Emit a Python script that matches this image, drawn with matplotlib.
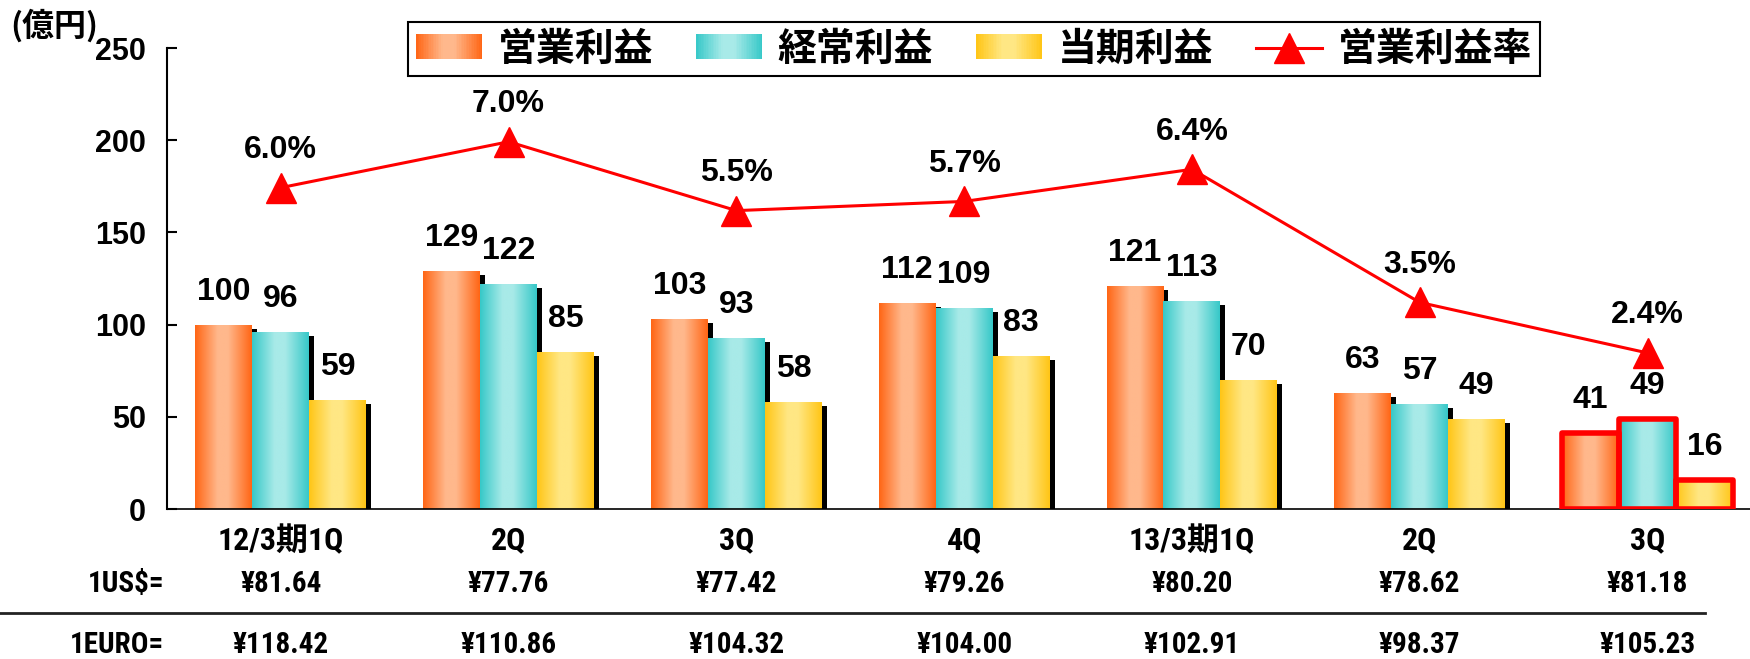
import numpy as np
import matplotlib
matplotlib.use('Agg')
import matplotlib.pyplot as plt
import matplotlib.patheffects as pe
import matplotlib.transforms as mtransforms
from matplotlib import font_manager as fm
from matplotlib.colors import LinearSegmentedColormap
from matplotlib.patches import Rectangle
from matplotlib.lines import Line2D
from matplotlib.legend_handler import HandlerBase

plt.rcParams['font.family'] = ['Liberation Sans', 'Noto Sans CJK JP']
plt.rcParams['font.weight'] = 'bold'

# data
cats = ['12/3期1Q', '2Q', '3Q', '4Q', '13/3期1Q', '2Q', '3Q']
op_profit = [100, 129, 103, 112, 121, 63, 41]
ord_profit = [96, 122, 93, 109, 113, 57, 49]
net_profit = [59, 85, 58, 83, 70, 49, 16]
op_margin = [6.0, 7.0, 5.5, 5.7, 6.4, 3.5, 2.4]
usd_rate = ['¥81.64', '¥77.76', '¥77.42', '¥79.26', '¥80.20', '¥78.62', '¥81.18']
eur_rate = ['¥118.42', '¥110.86', '¥104.32', '¥104.00', '¥102.91', '¥98.37', '¥105.23']
names = ['営業利益', '経常利益', '当期利益', '営業利益率']

def grad_cmap(dark, light):
    return LinearSegmentedColormap.from_list('g', [(0, dark), (0.4, light), (0.58, light), (1, dark)])

cm_orange = grad_cmap('#FF6514', '#FFB88C')
cm_teal = grad_cmap('#36C8C8', '#A8EAE8')
cm_yellow = grad_cmap('#FFC515', '#FFE784')

# condensed face for the table text, if one is around
avail = {f.name for f in fm.fontManager.ttflist}
narrow_name = next((n for n in ['Roboto Condensed', 'Liberation Sans Narrow', 'Open Sans Condensed']
                    if n in avail), 'Noto Sans CJK JP')
narrow = [narrow_name, 'Noto Sans CJK JP']
tsize = 21 if narrow_name != 'Noto Sans CJK JP' else 19

fig = plt.figure(figsize=(17.5, 6.59), dpi=100)
ax = fig.add_axes([0.0954, 0.2276, 0.9046, 0.6994])

x = np.arange(len(cats))
w = 0.25
grad = np.linspace(0, 1, 256)[None, :]
last = len(cats) - 1

for k, (vals, cm) in enumerate([(op_profit, cm_orange), (ord_profit, cm_teal), (net_profit, cm_yellow)]):
    bars = ax.bar(x + (k - 1) * w, vals, w, color=cm(0.5), edgecolor='none', zorder=2)
    for i, r in enumerate(bars):
        if i != last:
            r.set_path_effects([pe.SimplePatchShadow(offset=(3.6, -3), shadow_rgbFace='black', alpha=1),
                                pe.Normal()])
        im = ax.imshow(grad, cmap=cm, aspect='auto', interpolation='bilinear', zorder=2.1,
                       extent=(r.get_x(), r.get_x() + r.get_width(), 0, r.get_height()))
        im.set_clip_path(r)
        ax.annotate(str(vals[i]), (r.get_x() + r.get_width() / 2, r.get_height()),
                    xytext=(0, 18), textcoords='offset points', ha='center', va='baseline',
                    fontsize=23, fontweight='bold', zorder=6)
    # highlighted latest quarter
    ax.bar(x[last] + (k - 1) * w, vals[last], w, fill=False, edgecolor='#FF0000',
           lw=4, joinstyle='round', zorder=3)

ax.set_xlim(-0.5, 6.45)
ax.set_ylim(0, 250)
ax.set_yticks(range(0, 251, 50))
ax.tick_params(axis='y', direction='in', length=7, width=1.5, labelsize=22, pad=15)
ax.set_xticks(x)
ax.set_xticklabels(cats, fontsize=tsize + 2, family=narrow)
ax.tick_params(axis='x', length=0, pad=12)
for s in ['top', 'right']:
    ax.spines[s].set_visible(False)
ax.spines['left'].set_linewidth(1.5)
ax.spines['bottom'].set_linewidth(1.2)

# margin line on hidden secondary axis
ax2 = ax.twinx()
ax2.set_ylim(-1.0, 9.04)
ax2.plot(x, op_margin, color='#FF0000', lw=2.2, marker='^', ms=21, zorder=5)
for xi, m in zip(x, op_margin):
    ax2.annotate(f'{m:.1f}%', (xi, m), xytext=(0, 27), textcoords='offset points',
                 ha='center', va='center', fontsize=23, fontweight='bold')
ax2.set_yticks([])
for s in ax2.spines.values():
    s.set_visible(False)
ax2.set_xlim(-0.5, 6.45)

# exchange-rate rows
tr = mtransforms.blended_transform_factory(ax.transData, fig.transFigure)
for i in range(len(cats)):
    ax.text(x[i], 0.1138, usd_rate[i], transform=tr, ha='center', va='center', fontsize=tsize, family=narrow)
    ax.text(x[i], 0.0212, eur_rate[i], transform=tr, ha='center', va='center', fontsize=tsize, family=narrow)
fig.text(0.0937, 0.1138, '1US$=', ha='right', va='center', fontsize=tsize, family=narrow)
fig.text(0.0937, 0.0212, '1EURO=', ha='right', va='center', fontsize=tsize, family=narrow)
fig.add_artist(Line2D([0, 0.974], [0.0698, 0.0698], transform=fig.transFigure, color='#222222', lw=2))

fig.text(0.006, 0.960, '(億円)', ha='left', va='center', fontsize=23, family=['Noto Sans CJK JP'])


class GradHandler(HandlerBase):
    def __init__(self, cm):
        super().__init__()
        self.cm = cm

    def create_artists(self, legend, orig_handle, xdescent, ydescent, width, height, fontsize, trans):
        n = 40
        arts = []
        for i in range(n):
            arts.append(Rectangle((-xdescent + width * i / n, -ydescent), width / n * 1.1, height,
                                  facecolor=self.cm((i + 0.5) / n), edgecolor='none', lw=0, transform=trans))
        return arts


h1, h2, h3 = Rectangle((0, 0), 1, 1), Rectangle((0, 0), 1, 1), Rectangle((0, 0), 1, 1)
h4 = Line2D([], [], color='#FF0000', lw=2.2, marker='^', ms=21)
leg = fig.legend([h1, h2, h3, h4], names, loc='center', bbox_to_anchor=(0.5566, 0.9256), ncol=4,
                 handler_map={h1: GradHandler(cm_orange), h2: GradHandler(cm_teal), h3: GradHandler(cm_yellow)},
                 prop=dict(family=['Noto Sans CJK JP'], weight='bold', size=28),
                 handlelength=1.7, handleheight=0.6, handletextpad=0.4, columnspacing=1.1,
                 fancybox=False, framealpha=1, edgecolor='black', borderpad=0.2)
leg.get_frame().set_linewidth(1.5)

fig.savefig('out.png', dpi=100)
